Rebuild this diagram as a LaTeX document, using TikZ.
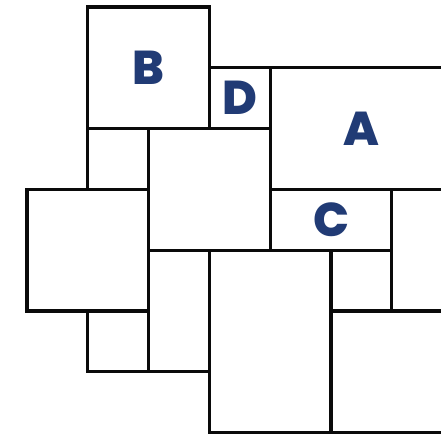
\documentclass[tikz,border=0pt]{standalone}
\usepackage{fontspec}
\setmainfont{Poppins}[BoldFont={Poppins ExtraBold}]
\definecolor{tline}{HTML}{0A0A0A}
\definecolor{tnavy}{HTML}{213B75}

\begin{document}
\begin{tikzpicture}[
  x=1.216cm, y=-1.216cm,
  tile/.style={draw=tline, line width=1.9pt, line join=miter},
  letter/.style={text=tnavy, font=\fontsize{27}{27}\selectfont\bfseries, inner sep=0pt}
]

\useasboundingbox (-0.444,-0.115) rectangle (6.809,7.039);
\clip (-0.444,-0.115) rectangle (6.809,7.039);

% top row
\draw[tile] (1,0) rectangle (3,2);
\draw[tile] (3,1) rectangle (4,2);
\draw[tile] (4,1) rectangle (7,3);

% middle band
\draw[tile] (1,2) rectangle (2,3);
\draw[tile] (2,2) rectangle (4,4);
\draw[tile] (0,3) rectangle (2,5);
\draw[tile] (4,3) rectangle (6,4);
\draw[tile] (6,3) rectangle (8,5);
\draw[tile] (5,4) rectangle (6,5);

% bottom part
\draw[tile] (2,4) rectangle (3,6);
\draw[tile] (3,4) rectangle (5,7);
\draw[tile] (1,5) rectangle (2,6);
\draw[tile] (5,5) rectangle (8,7);

% labels
\node[letter] (lblB) at (2,1) {B};
\node[letter] (lblD) at (3.5,1.5) {D};
\node[letter] (lblA) at (5.5,2) {A};
\node[letter] (lblC) at (5,3.5) {C};

\end{tikzpicture}
\end{document}
